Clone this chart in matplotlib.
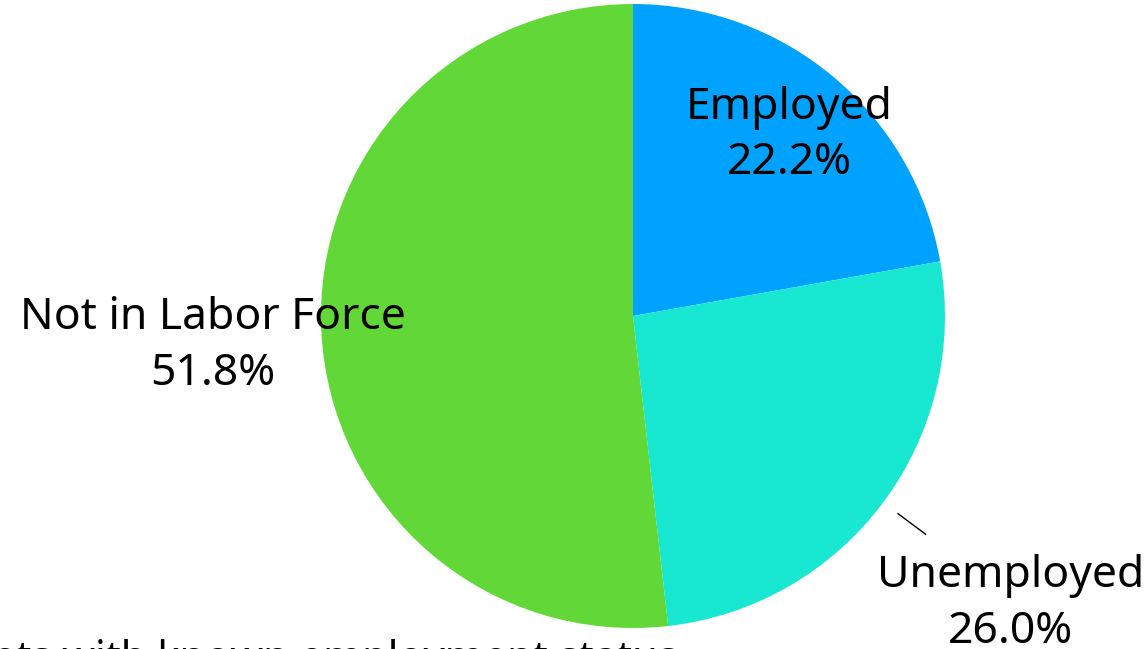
import numpy as np
import matplotlib
matplotlib.use("Agg")
import matplotlib.pyplot as plt

# Employment status of respondents
labels = ["Employed", "Unemployed", "Not in Labor Force"]
shares = [22.2, 26.0, 51.8]
colors = ["#00A2FF", "#18E7D2", "#62D838"]
caption = "Respondents with known employment status"

plt.rcParams["font.family"] = ["Noto Sans", "DejaVu Sans"]

W, H = 1146, 649
fig = plt.figure(figsize=(W / 100, H / 100), dpi=100)
ax = fig.add_axes([0, 0, 1, 1])

cx, cy, R = 633, 333, 312
wedges, _ = ax.pie(shares, colors=colors, startangle=90, counterclock=False,
                   center=(cx, cy), radius=R, frame=True,
                   wedgeprops=dict(linewidth=0))
ax.set_xlim(0, W)
ax.set_ylim(0, H)
ax.set_aspect("equal")
ax.axis("off")

# distance of each label from the centre, as a fraction of the radius
label_dist = [0.78, 1.51, 1.35]
for w, lab, val, d in zip(wedges, labels, shares, label_dist):
    mid = np.deg2rad((w.theta1 + w.theta2) / 2)
    x = cx + d * R * np.cos(mid)
    y = cy + d * R * np.sin(mid) - 6
    ax.text(x, y, f"{lab}\n{val:.1f}%", ha="center", va="center",
            fontsize=32, linespacing=1.36)
    if lab == "Unemployed":
        r1, r2 = 1.06, 1.17
        ax.plot([cx + r1 * R * np.cos(mid), cx + r2 * R * np.cos(mid)],
                [cy + r1 * R * np.sin(mid), cy + r2 * R * np.sin(mid)],
                color="black", lw=1)

ax.text(678, 10, caption, ha="right", va="top", fontsize=30)

fig.savefig("out.png", dpi=100)
